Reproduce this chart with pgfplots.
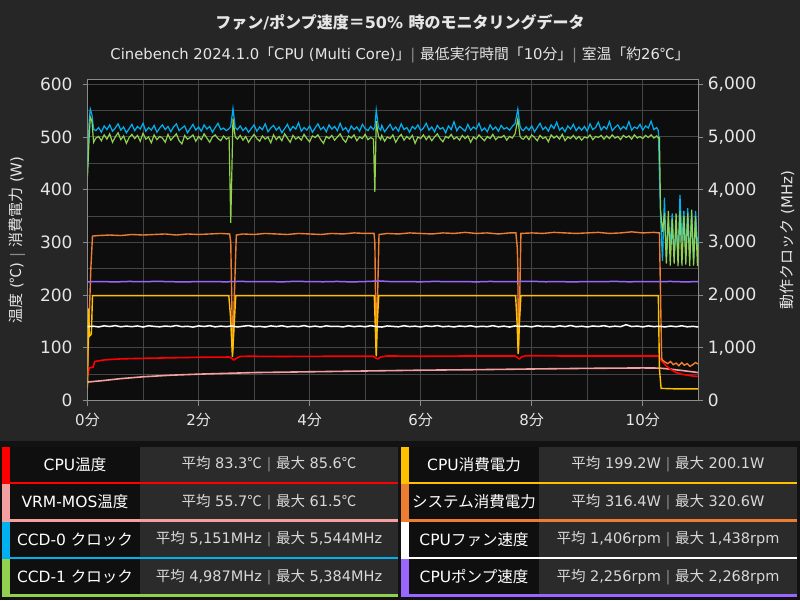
\documentclass[border=0pt]{standalone}
\usepackage{fontspec}
\setmainfont{DejaVu Sans}
\newfontfamily\jp{Noto Sans CJK JP}
\usepackage{pgfplots}
\pgfplotsset{compat=1.18}
\usepackage{pgfplotstable}

\definecolor{bg}{HTML}{262626}
\definecolor{plotbg}{HTML}{0D0D0D}
\definecolor{gridc}{HTML}{454545}
\definecolor{framec}{HTML}{8C8C8C}
\definecolor{txt}{HTML}{E6E6E6}
\definecolor{valtxt}{HTML}{D8D8D8}
\definecolor{sepc}{HTML}{8A8A8A}
\definecolor{panel}{HTML}{121212}
\definecolor{lblbox}{HTML}{0F0F0F}
\definecolor{valbox}{HTML}{2B2B2B}
\definecolor{cputemp}{HTML}{FF0000}
\definecolor{vrm}{HTML}{F4A0A0}
\definecolor{ccdzero}{HTML}{00B0F0}
\definecolor{ccdone}{HTML}{92D050}
\definecolor{cpupow}{HTML}{FFC000}
\definecolor{syspow}{HTML}{ED7D31}
\definecolor{fanc}{HTML}{FFFFFF}
\definecolor{pumpc}{HTML}{9966FF}

% clocks (MHz), time in minutes
\pgfplotstableread{
t ccd0 ccd1
0.00 4400 4250
0.03 5300 5000
0.05 5530 5380
0.08 5420 5300
0.11 5150 4900
0.15 5120 4980
0.20 5180 5010
0.25 5090 4930
0.30 5210 5040
0.35 5140 4960
0.40 5230 5060
0.45 5110 4900
0.50 5170 5000
0.55 5250 5080
0.60 5130 4950
0.65 5190 5020
0.70 5080 4880
0.75 5160 4990
0.80 5240 5050
0.85 5120 4970
0.90 5200 5030
0.95 5150 4920
1.00 5260 5070
1.05 5110 4960
1.10 5180 5000
1.15 5130 4890
1.20 5220 5040
1.25 5090 4950
1.30 5170 5010
1.35 5230 4980
1.40 5140 4900
1.45 5200 5050
1.50 5100 4940
1.55 5190 5000
1.60 5250 5060
1.65 5120 4930
1.70 5170 4870
1.75 5210 5030
1.80 5080 4960
1.85 5160 4990
1.90 5240 5040
1.95 5130 4920
2.00 5190 5010
2.05 5110 4950
2.10 5230 5060
2.15 5150 4980
2.20 5200 4900
2.25 5090 5000
2.30 5180 5040
2.35 5260 4970
2.40 5140 4930
2.45 5170 5020
2.50 5120 4960
2.55 5160 4990
2.58 5200 3370
2.62 5540 5350
2.66 5180 5000
2.70 5140 4960
2.75 5210 5030
2.80 5120 4940
2.85 5180 5010
2.90 5090 4900
2.95 5160 4980
3.00 5230 5050
3.05 5110 4970
3.10 5190 4920
3.15 5140 5020
3.20 5250 4960
3.25 5100 5000
3.30 5170 4890
3.35 5220 5040
3.40 5130 4950
3.45 5190 5010
3.50 5080 4930
3.55 5160 5060
3.60 5240 4980
3.65 5120 4900
3.70 5200 5030
3.75 5150 4960
3.80 5270 5000
3.85 5110 4940
3.90 5180 5050
3.95 5130 4970
4.00 5210 4910
4.05 5090 5020
4.10 5170 4990
4.15 5250 5040
4.20 5140 4950
4.25 5190 4880
4.30 5100 5010
4.35 5230 4970
4.40 5150 5030
4.45 5200 4940
4.50 5120 5000
4.55 5260 5060
4.60 5130 4960
4.65 5180 4900
4.70 5090 5020
4.75 5210 4980
4.80 5140 5040
4.85 5190 4930
4.90 5110 5000
4.95 5240 4970
5.00 5160 5050
5.05 5120 4950
5.10 5200 4990
5.15 5140 4960
5.175 5190 3960
5.20 5510 5300
5.24 5180 5010
5.28 5130 4950
5.30 5220 5030
5.35 5100 4920
5.40 5170 5000
5.45 5240 4970
5.50 5130 5040
5.55 5190 4900
5.60 5110 4990
5.65 5250 5050
5.70 5140 4940
5.75 5180 5010
5.80 5090 4960
5.85 5200 5030
5.90 5150 4880
5.95 5230 5000
6.00 5120 4970
6.05 5170 5040
6.10 5260 4950
6.15 5130 5020
6.20 5190 4930
6.25 5100 5000
6.30 5220 5060
6.35 5150 4970
6.40 5180 4910
6.45 5080 5010
6.50 5210 4980
6.55 5140 5050
6.60 5290 4960
6.65 5120 5000
6.70 5200 4940
6.75 5160 5030
6.80 5110 4970
6.85 5240 5020
6.90 5130 4900
6.95 5190 5000
7.00 5150 4960
7.05 5260 5040
7.10 5120 4980
7.15 5170 4930
7.20 5100 5010
7.25 5230 4970
7.30 5140 5050
7.35 5190 4950
7.40 5110 5000
7.45 5220 4990
7.50 5150 5030
7.55 5180 4940
7.60 5130 5010
7.65 5200 4980
7.70 5250 5060
7.75 5530 5340
7.79 5200 5010
7.82 5140 4970
7.85 5120 4960
7.90 5190 5020
7.95 5130 4950
8.00 5210 5040
8.05 5100 4990
8.10 5180 4930
8.15 5260 5030
8.20 5140 4970
8.25 5190 5000
8.30 5110 4910
8.35 5230 5040
8.40 5160 4980
8.45 5280 5020
8.50 5130 4960
8.55 5180 5050
8.60 5100 4930
8.65 5210 5000
8.70 5150 4970
8.75 5240 5030
8.80 5120 4960
8.85 5190 5010
8.90 5130 4940
8.95 5200 5000
9.00 5110 4980
9.05 5250 5040
9.10 5140 4950
9.15 5180 5010
9.20 5280 4990
9.25 5130 5030
9.30 5200 4960
9.35 5150 5020
9.40 5290 4970
9.45 5120 5040
9.50 5180 4980
9.55 5230 5010
9.60 5140 4950
9.65 5200 5030
9.70 5150 4990
9.75 5290 5020
9.80 5130 4960
9.85 5190 5040
9.90 5160 4980
9.95 5240 5010
10.00 5130 4970
10.05 5210 5030
10.10 5170 4990
10.15 5300 5040
10.20 5140 4980
10.25 5180 5020
10.28 5120 4980
10.30 4300 4990
10.32 3500 3620
10.355 2650 3200
10.39 3850 3550
10.425 2700 2600
10.46 3400 3600
10.495 2950 2560
10.53 3550 3450
10.565 2700 2600
10.60 3300 3550
10.635 2750 2550
10.67 3900 3600
10.705 3000 2560
10.74 3600 3500
10.775 2800 2580
10.81 3650 3550
10.845 2700 2550
10.88 3550 3620
10.915 2650 2560
10.95 3600 3500
10.985 2900 2550
11.00 3100 3000
}\clocks

% CPU fan (rpm)
\pgfplotstableread{
t rpm
0.0 1402
0.1 1410
0.2 1396
0.3 1417
0.4 1404
0.5 1421
0.6 1399
0.7 1412
0.8 1401
0.9 1415
1.0 1394
1.1 1419
1.2 1406
1.3 1398
1.4 1413
1.5 1403
1.6 1423
1.7 1400
1.8 1409
1.9 1393
2.0 1416
2.1 1404
2.2 1420
2.3 1397
2.4 1411
2.5 1401
2.6 1414
2.7 1395
2.8 1409
2.9 1422
3.0 1399
3.1 1407
3.2 1394
3.3 1416
3.4 1403
3.5 1419
3.6 1397
3.7 1410
3.8 1402
3.9 1421
4.0 1398
4.1 1412
4.2 1395
4.3 1417
4.4 1404
4.5 1409
4.6 1396
4.7 1418
4.8 1401
4.9 1413
5.0 1399
5.1 1420
5.2 1403
5.3 1394
5.4 1415
5.5 1406
5.6 1398
5.7 1419
5.8 1402
5.9 1411
6.0 1396
6.1 1416
6.2 1404
6.3 1422
6.4 1399
6.5 1410
6.6 1395
6.7 1414
6.8 1403
6.9 1418
7.0 1397
7.1 1409
7.2 1401
7.3 1420
7.4 1398
7.5 1412
7.6 1394
7.7 1415
7.8 1405
7.9 1411
8.0 1397
8.1 1419
8.2 1403
8.3 1408
8.4 1396
8.5 1417
8.6 1402
8.7 1423
8.8 1399
8.9 1410
9.0 1395
9.1 1414
9.2 1404
9.3 1420
9.4 1398
9.5 1411
9.6 1401
9.7 1438
9.8 1403
9.9 1412
10.0 1397
10.1 1416
10.2 1402
10.3 1409
10.4 1396
10.5 1413
10.6 1400
10.7 1418
10.8 1398
10.9 1407
11.0 1395
}\fan

% CPU pump (rpm)
\pgfplotstableread{
t rpm
0.00 2252
0.25 2257
0.50 2250
0.75 2259
1.00 2254
1.25 2261
1.50 2255
1.75 2249
2.00 2258
2.25 2256
2.50 2252
2.75 2260
3.00 2254
3.25 2257
3.50 2251
3.75 2262
4.00 2255
4.25 2253
4.50 2259
4.75 2250
5.00 2257
5.25 2268
5.50 2254
5.75 2256
6.00 2252
6.25 2260
6.50 2255
6.75 2258
7.00 2251
7.25 2259
7.50 2254
7.75 2257
8.00 2262
8.25 2253
8.50 2256
8.75 2250
9.00 2258
9.25 2255
9.50 2260
9.75 2252
10.00 2257
10.25 2254
10.50 2259
10.75 2251
11.00 2256
}\pump

% system power (W)
\pgfplotstableread{
t w
0.00 70
0.02 120
0.04 185
0.06 250
0.09 312
0.20 313
0.40 314
0.60 313
0.80 315
1.00 314
1.20 315
1.40 316
1.60 314
1.80 316
2.00 315
2.20 316
2.40 317
2.56 316
2.58 300
2.615 90
2.645 200
2.68 314
2.80 316
3.00 315
3.20 317
3.40 316
3.60 315
3.80 317
4.00 316
4.20 315
4.40 317
4.60 316
4.80 318
5.00 317
5.16 317
5.175 300
5.20 92
5.225 200
5.25 315
5.40 317
5.60 316
5.80 318
6.00 317
6.20 316
6.40 318
6.60 317
6.80 319
7.00 317
7.20 318
7.40 316
7.60 318
7.715 318
7.74 290
7.75 250
7.76 95
7.785 200
7.805 317
8.00 318
8.20 317
8.40 319
8.60 318
8.80 317
9.00 318
9.20 319
9.40 317
9.60 318
9.80 320
10.00 318
10.20 319
10.30 318
10.32 200
10.34 80
10.36 76
10.40 73
10.45 70
10.50 74
10.55 68
10.60 71
10.65 66
10.70 72
10.75 67
10.80 70
10.85 65
10.90 68
10.95 72
11.00 69
}\syspow

\newcommand\legrow[5]{%
  \pgfmathsetmacro\yt{600-446.5-37.5*#2}%
  \pgfmathsetmacro\yb{\yt-37.5}%
  \fill[lblbox] (#1+9.5,\yb) rectangle (#1+140,\yt);
  \fill[valbox] (#1+140,\yb) rectangle (#1+398,\yt);
  \fill[#3] (#1+2,\yb) rectangle (#1+9.5,\yt);
  \fill[#3] (#1+2,\yb) rectangle (#1+398,\yb+2.5);
  \node[text=white, font=\fontsize{15.5}{16}\selectfont] at (#1+75,\yb+19.5) {#4};
  \node[text=valtxt, font=\fontsize{14.5}{15}\selectfont] at (#1+269,\yb+19.5) {#5};
}
\newcommand\sep{\textcolor{sepc}{|}}

\begin{document}
\begin{tikzpicture}[x=1pt,y=1pt]
\useasboundingbox (0,0) rectangle (800,600);
\fill[bg] (0,0) rectangle (800,600);

\begin{axis}[
  at={(87.5pt,199.5pt)}, anchor=south west,
  scale only axis, width=610.8pt, height=321.2pt,
  xmin=0, xmax=11, ymin=0, ymax=609.5,
  axis background/.style={fill=plotbg},
  xtick={0,2,4,6,8,10},
  xticklabels={0{\jp 分},2{\jp 分},4{\jp 分},6{\jp 分},8{\jp 分},10{\jp 分}},
  minor xtick={1,3,5,7,9},
  ytick={0,100,...,600},
  minor ytick={50,150,...,550},
  grid=both,
  major grid style={gridc, line width=1pt},
  minor grid style={gridc, line width=1pt},
  axis line style={framec, line width=0.8pt},
  tick style={framec, line width=0.8pt},
  tick pos=left, tick align=outside,
  major tick length=5pt, minor tick length=0pt,
  /pgf/number format/assume math mode=true,
  ticklabel style={text=txt},
  yticklabel style={font=\fontsize{17}{17}\selectfont, xshift=-6.5pt},
  xticklabel style={font=\fontsize{15}{15}\selectfont, yshift=-4pt},
]
\addplot[vrm, line width=1.6pt] coordinates {
(0,35) (0.1,36) (0.3,38) (0.6,41.5) (1,45) (1.5,48) (2,50) (3,53) (4,54.5)
(5,56) (6,57.5) (7,58.5) (8,59.8) (9,61) (10,61.8) (10.3,61.5) (10.5,59.5)
(10.7,57) (11,53)};
\addplot[cputemp, line width=1.6pt] coordinates {
(0,45) (0.03,62) (0.1,63) (0.13,74) (0.3,77) (0.6,79) (1,80) (1.5,81)
(2,82) (2.55,82.5) (2.6,80) (2.63,77) (2.68,80) (2.75,83.5) (2.9,84)
(3.5,83.5) (4.5,84) (5.15,84) (5.2,80) (5.23,79) (5.28,82.5) (5.4,84.5)
(6,84) (7,84.5) (7.7,84.5) (7.75,81) (7.78,79) (7.82,83) (7.9,85) (8.5,84.5)
(9.5,84.5) (10.28,84.5) (10.31,80) (10.35,74) (10.4,68) (10.5,59) (10.6,53)
(10.7,50) (10.8,48) (10.9,46.5) (11,45.5)};
\addplot[syspow, line width=1.4pt] table[x=t, y=w] {\syspow};
\addplot[cpupow, line width=1.4pt] coordinates {
(0,24) (0.02,175) (0.035,122) (0.07,126) (0.09,199) (2.545,199) (2.575,160)
(2.61,83) (2.64,140) (2.67,199) (5.165,199) (5.18,150) (5.2,84) (5.22,150)
(5.245,199) (7.71,199) (7.735,150) (7.757,88) (7.78,150) (7.805,199)
(10.28,199) (10.3,60) (10.33,23) (10.6,22) (11,22)};
\end{axis}

\begin{axis}[
  at={(87.5pt,199.5pt)}, anchor=south west,
  scale only axis, width=610.8pt, height=321.2pt,
  xmin=0, xmax=11, ymin=0, ymax=6095,
  hide x axis,
  axis y line*=right,
  ytick={0,1000,...,6000},
  axis line style={framec, line width=0.8pt},
  tick style={framec, line width=0.8pt},
  tick align=outside, major tick length=5pt,
  /pgf/number format/assume math mode=true,
  /pgf/number format/1000 sep={,},
  yticklabel style={font=\fontsize{17}{17}\selectfont, text=txt, xshift=1pt},
]
\addplot[fanc, line width=1.5pt] table[x=t, y=rpm] {\fan};
\addplot[pumpc, line width=1.5pt] table[x=t, y=rpm] {\pump};
\addplot[ccdzero, line width=1.2pt] table[x=t, y=ccd0] {\clocks};
\addplot[ccdone, line width=1.2pt] table[x=t, y=ccd1] {\clocks};
\end{axis}

% titles and axis labels
\node[text=txt, font=\fontsize{16}{16}\selectfont\bfseries] at (400,578)
  {{\jp\bfseries ファン}/{\jp\bfseries ポンプ速度＝}50\% {\jp\bfseries 時のモニタリングデータ}};
\node[text=txt, font=\fontsize{14.8}{15}\selectfont] at (400,545)
  {Cinebench 2024.1.0{\jp 「}CPU (Multi Core){\jp 」}\sep{} {\jp 最低実行時間「}10{\jp 分」}\sep{} {\jp 室温「約}26{\jp ℃」}};
\node[rotate=90, text=txt, font=\fontsize{15}{15}\selectfont] at (17,360)
  {{\jp 温度} ({\jp ℃}) \sep{} {\jp 消費電力} (W)};
\node[rotate=90, text=txt, font=\fontsize{15}{15}\selectfont] at (787,360)
  {{\jp 動作クロック} (MHz)};

% legend table
\fill[panel] (0,0) rectangle (800,159);
\legrow{0}{0}{cputemp}{CPU{\jp 温度}}{{\jp 平均} 83.3{\jp ℃} \sep{} {\jp 最大} 85.6{\jp ℃}}
\legrow{0}{1}{vrm}{VRM-MOS{\jp 温度}}{{\jp 平均} 55.7{\jp ℃} \sep{} {\jp 最大} 61.5{\jp ℃}}
\legrow{0}{2}{ccdzero}{CCD-0 {\jp クロック}}{{\jp 平均} 5,151MHz \sep{} {\jp 最大} 5,544MHz}
\legrow{0}{3}{ccdone}{CCD-1 {\jp クロック}}{{\jp 平均} 4,987MHz \sep{} {\jp 最大} 5,384MHz}
\legrow{399}{0}{cpupow}{CPU{\jp 消費電力}}{{\jp 平均} 199.2W \sep{} {\jp 最大} 200.1W}
\legrow{399}{1}{syspow}{{\jp システム消費電力}}{{\jp 平均} 316.4W \sep{} {\jp 最大} 320.6W}
\legrow{399}{2}{fanc}{CPU{\jp ファン速度}}{{\jp 平均} 1,406rpm \sep{} {\jp 最大} 1,438rpm}
\legrow{399}{3}{pumpc}{CPU{\jp ポンプ速度}}{{\jp 平均} 2,256rpm \sep{} {\jp 最大} 2,268rpm}
\end{tikzpicture}
\end{document}
